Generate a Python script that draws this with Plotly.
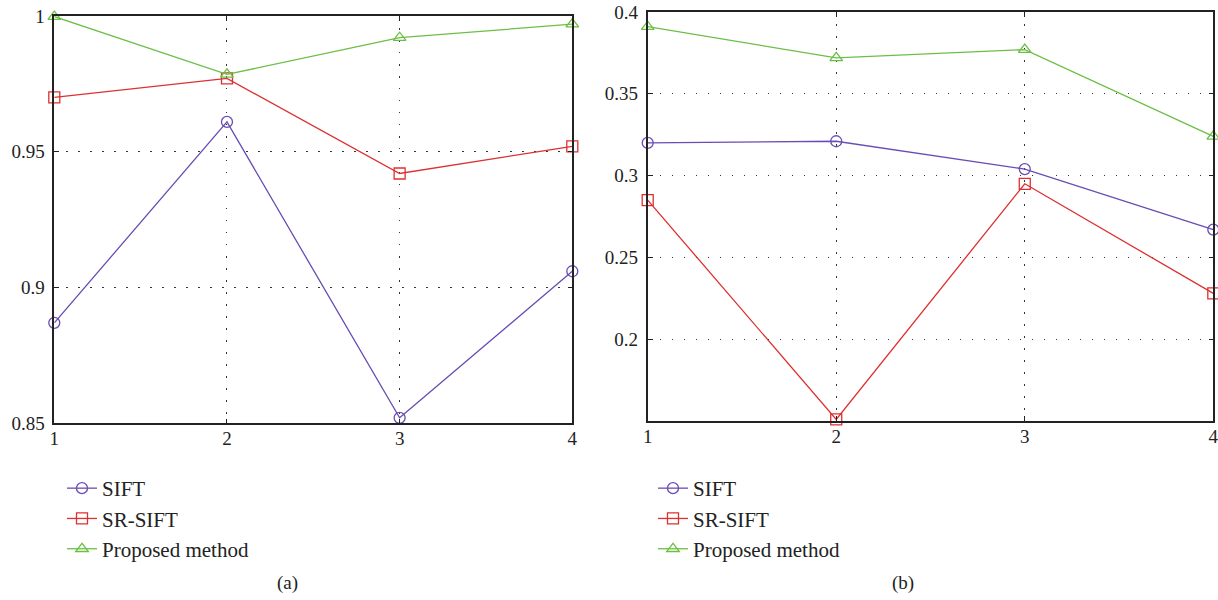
import plotly.graph_objects as go

x_vals = [1, 2, 3, 4]

# Panel (a)
a_sift = [0.887, 0.961, 0.852, 0.906]
a_srsift = [0.970, 0.977, 0.942, 0.952]
a_proposed = [0.9998, 0.9785, 0.992, 0.997]

# Panel (b)
b_sift = [0.320, 0.321, 0.304, 0.267]
b_srsift = [0.285, 0.151, 0.295, 0.228]
b_proposed = [0.391, 0.372, 0.377, 0.324]

series_names = ["SIFT", "SR-SIFT", "Proposed method"]
colors = ["#6a4db3", "#dd3030", "#6cbf45"]
symbols = ["circle-open", "square-open", "triangle-up-open"]

a_yticks = [0.85, 0.9, 0.95, 1.0]
a_yticklabels = ["0.85", "0.9", "0.95", "1"]
b_yticks = [0.2, 0.25, 0.3, 0.35, 0.4]
b_yticklabels = ["0.2", "0.25", "0.3", "0.35", "0.4"]

FONT = "Liberation Serif, DejaVu Serif, serif"
W, H = 1218, 600

fig = go.Figure()

for i, (vals, name) in enumerate(zip([a_sift, a_srsift, a_proposed], series_names)):
    fig.add_trace(go.Scatter(
        x=x_vals, y=vals, name=name, mode="lines+markers",
        line=dict(color=colors[i], width=1.3),
        marker=dict(symbol=symbols[i], size=11, color=colors[i], line=dict(width=1.3)),
        xaxis="x", yaxis="y", legend="legend", cliponaxis=False,
    ))
for i, (vals, name) in enumerate(zip([b_sift, b_srsift, b_proposed], series_names)):
    fig.add_trace(go.Scatter(
        x=x_vals, y=vals, name=name, mode="lines+markers",
        line=dict(color=colors[i], width=1.3),
        marker=dict(symbol=symbols[i], size=11, color=colors[i], line=dict(width=1.3)),
        xaxis="x2", yaxis="y2", legend="legend2", cliponaxis=False,
    ))

def px_x(p):
    return p / W

def px_y(p):
    return 1 - p / H

axis_common = dict(
    showline=True, linecolor="#222", linewidth=1.6, mirror="ticks",
    ticks="inside", ticklen=5, tickcolor="#222", tickwidth=1.2,
    showgrid=True, gridcolor="#333", gridwidth=1.2, griddash="1.5px,10.5px",
    zeroline=False, automargin=False, ticklabeloverflow="allow",
    tickfont=dict(family=FONT, size=19, color="#222"),
)

fig.update_layout(
    width=W, height=H,
    margin=dict(l=0, r=0, t=0, b=0, autoexpand=False),
    paper_bgcolor="white", plot_bgcolor="white",
    font=dict(family=FONT, size=19, color="#222"),
    xaxis=dict(domain=[px_x(54.3), px_x(572.3)], range=[1, 4],
               tickvals=x_vals, ticktext=["1", "2", "3", "4"], anchor="y",
               ticklabelstandoff=-3, **axis_common),
    yaxis=dict(domain=[px_y(423.3), px_y(16)], range=[0.85, 1.0],
               tickvals=a_yticks, ticktext=a_yticklabels, anchor="x",
               ticklabelstandoff=4, **axis_common),
    xaxis2=dict(domain=[px_x(647.7), px_x(1213.3)], range=[1, 4],
                tickvals=x_vals, ticktext=["1", "2", "3", "4"], anchor="y2",
                ticklabelstandoff=-3, **axis_common),
    yaxis2=dict(domain=[px_y(421), px_y(12)], range=[0.15, 0.4],
                tickvals=b_yticks, ticktext=b_yticklabels, anchor="x2",
                ticklabelstandoff=4, **axis_common),
    legend=dict(x=px_x(62), y=px_y(468), xanchor="left", yanchor="top",
                font=dict(family=FONT, size=21, color="#222"), bgcolor="rgba(0,0,0,0)",
                tracegroupgap=0, itemwidth=30),
    legend2=dict(x=px_x(653), y=px_y(468), xanchor="left", yanchor="top",
                 font=dict(family=FONT, size=21, color="#222"), bgcolor="rgba(0,0,0,0)",
                 tracegroupgap=0, itemwidth=30),
    annotations=[
        dict(text="(a)", x=px_x(287), y=px_y(583), xref="paper", yref="paper",
             xanchor="center", yanchor="middle",
             showarrow=False, font=dict(family=FONT, size=19, color="#222")),
        dict(text="(b)", x=px_x(903), y=px_y(583), xref="paper", yref="paper",
             xanchor="center", yanchor="middle",
             showarrow=False, font=dict(family=FONT, size=19, color="#222")),
    ],
)

fig.write_html("out.html")
